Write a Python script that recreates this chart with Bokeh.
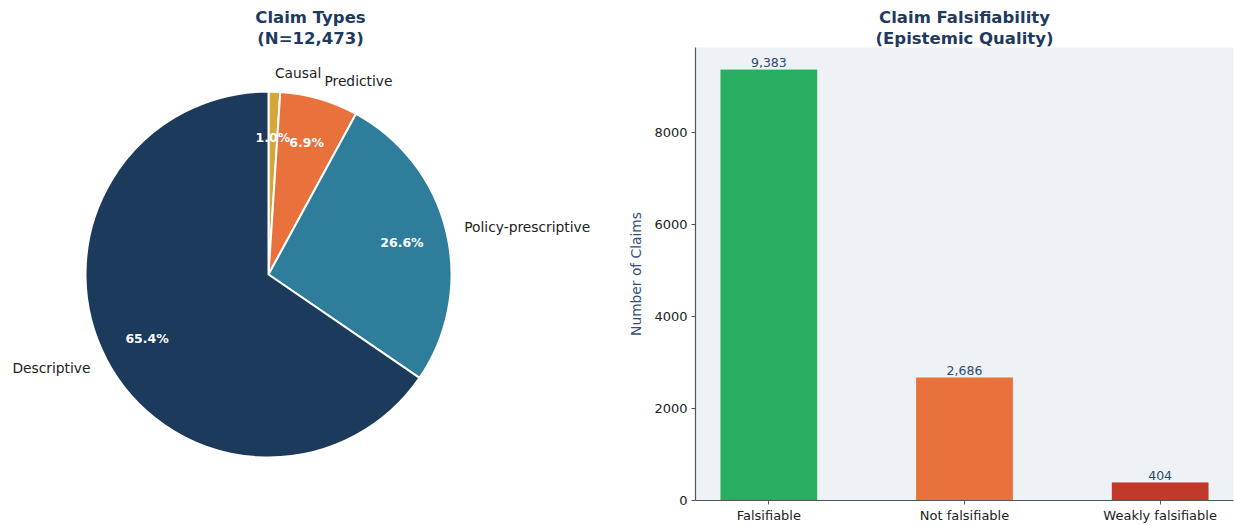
import math
from bokeh.plotting import figure
from bokeh.layouts import row
from bokeh.models import Range1d, FixedTicker, Title, ColumnDataSource
from bokeh.core.properties import value
from bokeh.embed import file_html
from bokeh.resources import INLINE

# ---- data ----
pie_labels = ["Causal", "Predictive", "Policy-prescriptive", "Descriptive"]
pie_counts = [128, 862, 3320, 8163]
pie_colors = ["#d4a63c", "#e8713c", "#2e7d9a", "#1b3a5c"]

bar_cats = ["Falsifiable", "Not falsifiable", "Weakly falsifiable"]
bar_counts = [9383, 2686, 404]
bar_colors = ["#27ae60", "#e8713c", "#c0392b"]

y_ticks = [0, 2000, 4000, 6000, 8000]

FONT = "DejaVu Sans"
TITLE_COLOR = "#1f3a5f"
LABEL_COLOR = "#2c4a6e"

W1, H = 620, 525
TOP, BOTTOM = 47, 25   # shared frame borders (row aligns frames)

# ---- pie figure (data coordinates == pixels, y up) ----
p1 = figure(width=W1, height=H, x_range=Range1d(0, W1),
            y_range=Range1d(BOTTOM, H - TOP),
            output_backend="svg", toolbar_location=None,
            min_border_left=0, min_border_right=0,
            min_border_top=TOP, min_border_bottom=BOTTOM,
            x_axis_location=None, y_axis_location=None)
p1.outline_line_color = None
p1.grid.visible = False

cx, cy, r = 268, H - 274, 183
total = sum(pie_counts)
starts, ends, mids = [], [], []
acc = 0.0
for c in pie_counts:
    a0 = math.pi / 2 - 2 * math.pi * acc / total
    acc += c
    a1 = math.pi / 2 - 2 * math.pi * acc / total
    starts.append(a1)
    ends.append(a0)
    mids.append((a0 + a1) / 2)

src = ColumnDataSource(dict(start=starts, end=ends, color=pie_colors))
p1.wedge(x=cx, y=cy, radius=r, start_angle="start", end_angle="end",
         direction="anticlock", fill_color="color", line_color="white",
         line_width=2, source=src)

lx, ly, la, px, py, pt = [], [], [], [], [], []
for lab, c, m in zip(pie_labels, pie_counts, mids):
    lx.append(cx + 1.1 * r * math.cos(m))
    ly.append(cy + 1.1 * r * math.sin(m))
    la.append("left" if math.cos(m) > 0 else "right")
    px.append(cx + 0.75 * r * math.cos(m))
    py.append(cy + 0.75 * r * math.sin(m))
    pt.append(f"{100 * c / total:.1f}%")

p1.text(x=lx, y=ly, text=pie_labels, text_align=la, text_baseline="middle",
        text_font=value(FONT), text_font_size="13.8px", text_color="#222222")
p1.text(x=px, y=py, text=pt, text_align="center", text_baseline="middle",
        text_font=value(FONT), text_font_size="12.5px", text_font_style="bold",
        text_color="white")

p1.add_layout(Title(text=f"(N={total:,})", align="center", text_font=FONT,
                    text_font_size="16.5px", text_font_style="bold",
                    text_color=TITLE_COLOR, standoff=0), "above")
p1.add_layout(Title(text="Claim Types", align="center", text_font=FONT,
                    text_font_size="16.5px", text_font_style="bold",
                    text_color=TITLE_COLOR, standoff=0), "above")

# ---- bar figure ----
W2 = 1235 - W1
idx = list(range(len(bar_cats)))
p2 = figure(width=W2, height=H, x_range=Range1d(-0.375, 2.375),
            y_range=Range1d(0, max(bar_counts) * 1.05),
            output_backend="svg", toolbar_location=None,
            min_border_left=75, min_border_right=2, min_border_top=TOP,
            min_border_bottom=BOTTOM)
p2.background_fill_color = "#eef2f7"
p2.border_fill_color = "white"
p2.outline_line_color = None
p2.grid.visible = False

bsrc = ColumnDataSource(dict(x=idx, top=bar_counts, color=bar_colors,
                             lab=[f"{v:,}" for v in bar_counts]))
p2.vbar(x="x", top="top", bottom=0, width=0.5, fill_color="color",
        line_color="#f4f4f4", line_width=1, source=bsrc)
p2.text(x="x", y="top", text="lab", text_align="center", text_baseline="bottom",
        y_offset=-2, text_font=value(FONT), text_font_size="12.5px",
        text_color=LABEL_COLOR, source=bsrc)

p2.xaxis.ticker = FixedTicker(ticks=idx)
p2.xaxis.major_label_overrides = {i: c for i, c in zip(idx, bar_cats)}
p2.yaxis.ticker = FixedTicker(ticks=y_ticks)
for ax in (p2.xaxis, p2.yaxis):
    ax.axis_line_color = "#555555"
    ax.axis_line_width = 1.2
    ax.major_tick_line_color = "#555555"
    ax.major_tick_in = 0
    ax.major_tick_out = 4
    ax.minor_tick_line_color = None
    ax.major_label_text_font = FONT
    ax.major_label_text_font_size = "13px"
    ax.major_label_text_color = "#222222"
    ax.major_label_standoff = 4
p2.xaxis.major_label_standoff = 3
p2.yaxis.axis_label = "Number of Claims"
p2.yaxis.axis_label_text_font = FONT
p2.yaxis.axis_label_text_font_size = "13.8px"
p2.yaxis.axis_label_text_font_style = "normal"
p2.yaxis.axis_label_text_color = "#34507a"
p2.yaxis.axis_label_standoff = 7

p2.add_layout(Title(text="(Epistemic Quality)", align="center", text_font=FONT,
                    text_font_size="16.5px", text_font_style="bold",
                    text_color=TITLE_COLOR, standoff=0), "above")
p2.add_layout(Title(text="Claim Falsifiability", align="center", text_font=FONT,
                    text_font_size="16.5px", text_font_style="bold",
                    text_color=TITLE_COLOR, standoff=0), "above")

layout = row(p1, p2)
open("out.html", "w").write(file_html(layout, INLINE))
